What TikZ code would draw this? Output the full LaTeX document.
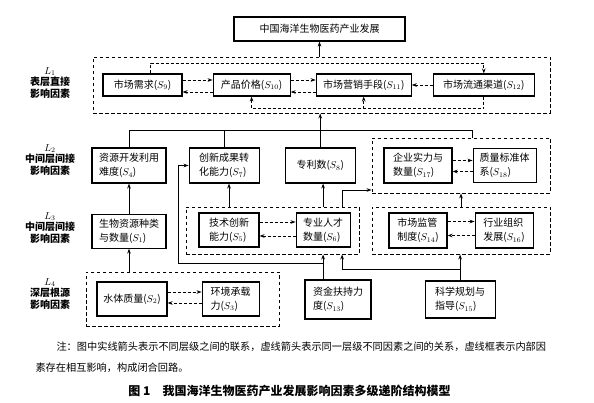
\documentclass[tikz,border=0pt]{standalone}
\usepackage{fontspec}
\setmainfont{Noto Sans CJK SC}
\usetikzlibrary{arrows.meta, positioning, calc}

\begin{document}
\begin{tikzpicture}[x=1pt, y=-1pt,
  box/.style={draw, line width=1.1pt, fill=white, align=left, inner sep=2pt, font=\fontsize{10}{14}\selectfont},
  dashframe/.style={draw, line width=0.9pt, dash pattern=on 3.5pt off 2.5pt},
  level/.style={align=center, font=\bfseries\fontsize{10}{11.5}\selectfont},
  arrow/.style={line width=0.9pt, -{Stealth[length=5pt,width=3.6pt]}},
  darrow/.style={arrow, dash pattern=on 3pt off 2pt},
  link/.style={line width=0.9pt}
]
  \useasboundingbox (0,0) rectangle (594,403);

  % dashed frames
  \node[dashframe, minimum width=457pt, minimum height=56pt] (g1) at (321.5,85) {};
  \node[dashframe, minimum width=178pt, minimum height=55pt] (g17) at (461,165.5) {};
  \node[dashframe, minimum width=173pt, minimum height=47pt] (g5) at (272.5,230.5) {};
  \node[dashframe, minimum width=178pt, minimum height=47pt] (g14) at (461,230.5) {};
  \node[dashframe, minimum width=193pt, minimum height=54pt] (g2) at (182.5,299) {};

  % goal
  \node[box, align=center, minimum width=171pt, minimum height=24pt] (top) at (319.5,29) {中国海洋生物医药产业发展};

  % L1
  \node[box, minimum width=79pt, minimum height=22pt] (s9) at (142.5,85) {市场需求($S_{9}$)};
  \node[box, minimum width=77pt, minimum height=22pt, right=30pt of s9] (s10) {产品价格($S_{10}$)};
  \node[box, minimum width=95pt, minimum height=22pt, right=25pt of s10] (s11) {市场营销手段($S_{11}$)};
  \node[box, minimum width=101pt, minimum height=22pt, right=21pt of s11] (s12) {市场流通渠道($S_{12}$)};

  % L2
  \node[box, minimum width=74pt, minimum height=35pt] (s4) at (129,165.5) {资源开发利用\\难度($S_{4}$)};
  \node[box, minimum width=70pt, minimum height=35pt, right=22pt of s4] (s7) {创新成果转\\化能力($S_{7}$)};
  \node[box, minimum width=70pt, minimum height=35pt, right=25pt of s7] (s8) {专利数($S_{8}$)};
  \node[box, minimum width=68pt, minimum height=35pt] (s17) at (418,165.5) {企业实力与\\数量($S_{17}$)};
  \node[box, minimum width=63pt, minimum height=34pt, right=20pt of s17] (s18) {质量标准体\\系($S_{18}$)};

  % L3
  \node[box, minimum width=74pt, minimum height=34pt, below=30pt of s4] (s1) {生物资源种类\\与数量($S_{1}$)};
  \node[box, minimum width=60pt, minimum height=34pt] (s5) at (229,230) {技术创新\\能力($S_{5}$)};
  \node[box, minimum width=54pt, minimum height=34pt, right=36pt of s5] (s6) {专业人才\\数量($S_{6}$)};
  \node[box, minimum width=58pt, minimum height=35pt] (s14) at (418,230.5) {市场监管\\制度($S_{14}$)};
  \node[box, minimum width=58pt, minimum height=35pt, right=27pt of s14] (s16) {行业组织\\发展($S_{16}$)};

  % L4
  \node[box, minimum width=70pt, minimum height=34pt] (s2) at (132,299) {水体质量($S_{2}$)};
  \node[box, minimum width=57pt, minimum height=34pt, right=34pt of s2] (s3) {环境承载\\力($S_{3}$)};
  \node[box, minimum width=66pt, minimum height=39pt] (s13) at (338,299.5) {资金扶持力\\度($S_{13}$)};
  \node[box, minimum width=70pt, minimum height=37pt, right=53pt of s13] (s15) {科学规划与\\指导($S_{15}$)};

  % level labels
  \node[level] (l1) at (50,83) {$L_{1}$\\表层直接\\影响因素};
  \node[level] (l2) at (50,160) {$L_{2}$\\中间层间接\\影响因素};
  \node[level] (l3) at (50,228) {$L_{3}$\\中间层间接\\影响因素};
  \node[level] (l4) at (50,294) {$L_{4}$\\深层根源\\影响因素};

  % within-level links
  \draw[darrow] ([yshift=5pt]s9.east) -- ([yshift=5pt]s10.west);
  \draw[darrow] ([yshift=-7pt]s10.west) -- ([yshift=-7pt]s9.east);
  \draw[darrow] ([yshift=5pt]s10.east) -- ([yshift=5pt]s11.west);
  \draw[darrow] ([yshift=-7pt]s11.west) -- ([yshift=-7pt]s10.east);
  \draw[darrow] (s12) -- (s11);
  \draw[darrow] ([xshift=8pt]s9.north) -- ++(0,-10) -| (s12.north);
  \draw[darrow] (s12.south) -- ++(0,12) coordinate (fb) -| (s10.south);
  \draw[darrow] (fb -| s11.south) -- (s11.south);
  \draw[darrow] ([yshift=5pt]s17.east) -- ([yshift=5pt]s18.west);
  \draw[darrow] ([yshift=-6pt]s18.west) -- ([yshift=-6pt]s17.east);
  \draw[darrow] ([yshift=8pt]s5.east) -- ([yshift=8pt]s6.west);
  \draw[darrow] ([yshift=-6pt]s6.west) -- ([yshift=-6pt]s5.east);
  \draw[darrow] ([yshift=9pt]s14.east) -- ([yshift=9pt]s16.west);
  \draw[darrow] ([yshift=-5pt]s16.west) -- ([yshift=-5pt]s14.east);
  \draw[darrow] ([yshift=7pt]s2.east) -- ([yshift=7pt]s3.west);
  \draw[darrow] ([yshift=-4pt]s3.west) -- ([yshift=-4pt]s2.east);

  % between-level links
  \draw[arrow] (g1.north -| top) -- (top.south);
  \coordinate (bus) at (472,130);
  \draw[link] (s4.north) |- (bus) -- (g17.north -| bus);
  \draw[link] (s7.north) -- (s7.north |- bus);
  \draw[arrow] (s8.north) -- (g1.south -| s8.north);
  \draw[arrow] (s1.north) -- (s4.south);
  \draw[arrow] (g5.north -| s5) -- (s7.south -| s5);
  \draw[arrow] (g5.north -| s6) -- (s8.south -| s6);
  \coordinate (g5o) at ($(g5.north -| s6)+(19,0)$);
  \draw[arrow] (g5o) |- ($(g17.west)+(0,24.5)$);
  \draw[arrow] (g14.north) -- (g17.south);
  \draw[arrow] (g2.north -| s1) -- (s1.south);
  \draw[arrow] (s13.north -| s6) -- (g5.south -| s6);
  \draw[arrow] ($(s13.north -| s6)+(0,-16)$) -| ($(s7.west)+(-10,0)$) -- (s7.west);
  \draw[arrow] (s15.north) -- (s15.north |- g14.south);
  \draw[arrow] ($(s15.north)+(0,-11)$) -| (g5.south -| g5o);

  % note and caption
  \node[anchor=west, align=left, font=\fontsize{10.2}{21}\selectfont] (note) at (32,357.5)
    {\hspace*{21pt}注：图中实线箭头表示不同层级之间的联系，虚线箭头表示同一层级不同因素之间的关系，虚线框表示内部因\\素存在相互影响，构成闭合回路。};
  \node[font=\bfseries\fontsize{12}{14}\selectfont] (cap) at (289.5,391)
    {图 1\quad 我国海洋生物医药产业发展影响因素多级递阶结构模型};
\end{tikzpicture}
\end{document}
